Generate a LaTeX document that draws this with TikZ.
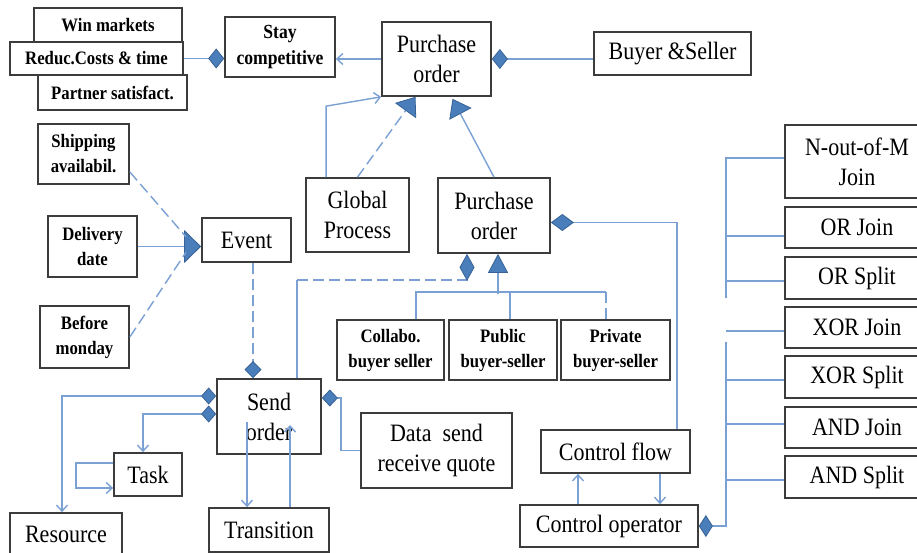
\documentclass[tikz,border=0pt]{standalone}
\usepackage{fontspec}
\setmainfont{Liberation Serif}
\newfontfamily\dfont[FakeStretch=0.88]{Liberation Serif}
\usetikzlibrary{arrows.meta,calc}

\definecolor{conncol}{RGB}{122,160,212}
\definecolor{tipfill}{RGB}{74,126,187}
\definecolor{tipline}{RGB}{56,98,150}
\definecolor{boxline}{RGB}{60,60,60}

\tikzset{
  DiaF/.tip={Diamond[fill=tipfill,color=tipline,line width=0.8pt]},
  TriF/.tip={Triangle[fill=tipfill,color=tipline,line width=0.8pt]},
  Op/.tip={Straight Barb[length=6pt,width=11pt]},
  box/.style={draw=boxline, line width=1.7pt, fill=white, inner sep=0pt,
    align=center, font=\dfont\fontsize{25}{30}\selectfont},
  sbox/.style={box, font=\dfont\bfseries\fontsize{19}{25}\selectfont},
  conn/.style={draw=conncol, line width=1.4pt},
  dashed/.style={dash pattern=on 11pt off 5pt},
}

\begin{document}
\begin{tikzpicture}[x=1pt,y=-1pt]
\useasboundingbox (0,0) rectangle (917,553);
\clip (0,0) rectangle (917,553);
\fill[white] (0,0) rectangle (917,553);

% goals
\node[sbox, minimum width=148, minimum height=34] (win) at (108,25) {Win markets};
\node[sbox, minimum width=173, minimum height=33] (reduc) at (96.5,58.5) {Reduc.Costs \& time};
\node[sbox, minimum width=149, minimum height=35] (partner) at (112.5,92.5) {Partner satisfact.};
\node[sbox, minimum width=110, minimum height=60, font=\dfont\bfseries\fontsize{20}{26}\selectfont] (stay) at (280,47) {Stay\\competitive};

% purchase order and its parts
\node[box, minimum width=109, minimum height=74] (po) at (436.5,59) {Purchase\\order};
\node[box, minimum width=157, minimum height=43] (buyer) at (672.5,53.5) {Buyer \&Seller};
\node[box, minimum width=103, minimum height=74] (gp) at (357.5,215) {Global\\Process};
\node[box, minimum width=112, minimum height=75] (po2) at (494,215.5) {Purchase\\order};

% event conditions
\node[sbox, minimum width=91, minimum height=60] (ship) at (83.5,154) {Shipping\\availabil.};
\node[sbox, minimum width=89, minimum height=61] (deliv) at (92.5,246.5) {Delivery\\date};
\node[sbox, minimum width=89, minimum height=62] (before) at (84.5,337) {Before\\monday};
\node[box, minimum width=89, minimum height=44] (event) at (246.5,240) {Event};

% buyer-seller kinds
\node[sbox, minimum width=107, minimum height=60] (collabo) at (390.5,350) {Collabo.\\buyer seller};
\node[sbox, minimum width=108, minimum height=60] (public) at (503,350) {Public\\buyer-seller};
\node[sbox, minimum width=109, minimum height=60] (private) at (615.5,350) {Private\\buyer-seller};

% process elements
\node[box, minimum width=104, minimum height=75] (send) at (269,416.5) {Send\\order};
\node[box, minimum width=68, minimum height=43] (task) at (148,474.5) {Task};
\node[box, minimum width=112, minimum height=43] (resource) at (66,534.5) {Resource};
\node[box, minimum width=120, minimum height=44] (transition) at (269,530) {Transition};
\node[box, minimum width=151, minimum height=75] (data) at (436.5,450.5) {Data\ \ send\\receive quote};
\node[box, minimum width=149, minimum height=43] (cflow) at (615.5,451.5) {Control flow};
\node[box, minimum width=178, minimum height=42] (cop) at (609,526) {Control operator};

% control operators
\node[box, minimum width=144, minimum height=73] (nofm) at (857,161.5) {N-out-of-M\\Join};
\node[box, minimum width=144, minimum height=41] (orj) at (857,227.5) {OR Join};
\node[box, minimum width=144, minimum height=42] (ors) at (857,278) {OR Split};
\node[box, minimum width=144, minimum height=41] (xorj) at (857,327.5) {XOR Join};
\node[box, minimum width=144, minimum height=42] (xors) at (857,377) {XOR Split};
\node[box, minimum width=144, minimum height=41] (andj) at (857,427.5) {AND Join};
\node[box, minimum width=144, minimum height=42] (ands) at (857,477) {AND Split};

% --- connectors ---
\draw[conn,-{DiaF[length=16pt,width=20pt]}] (reduc.east) -- (reduc.east -| stay.west);
\draw[conn,-{Op}] (po.west) -- (po.west -| stay.east);
\draw[conn,-{DiaF[length=16pt,width=20pt]}] (po.east -| buyer.west) -- (po.east);

\draw[conn,-{Op}] ($(gp.north west)+(21,0)$) -- ++(0,-71) -- (po.south west);
\draw[conn,dashed,-{TriF[length=17pt,width=26pt]}] (gp.north) -- ($(po.south)+(-21,0)$);
\draw[conn,-{TriF[length=17pt,width=25pt]}] (po2.north) -- ($(po.south)+(16,2)$);

\draw[conn,-{DiaF[length=23pt,width=17pt]}] ($(cflow.north east)+(-14,0)$) |- ($(po2.east)+(0,7)$);

\coordinate (sj) at ($(send.north west)+(81,-98)$);
\draw[conn] ($(send.north west)+(81,0)$) -- (sj);
\draw[conn,dashed,-{DiaF[length=27pt,width=15pt]}] (sj) -| ($(po2.south)+(-27,0)$);

\coordinate (hub) at ($(po2.south)+(4,40)$);
\draw[conn,-{TriF[length=19pt,width=20pt]}] (hub) -- ($(po2.south)+(4,0)$);
\draw[conn] ($(collabo.north)+(25.5,0)$) |- ($(private.north)+(-9.5,-27)$);
\draw[conn] ($(public.north)+(7,0)$) -- ++(0,-27);
\draw[conn,dashed] ($(private.north)+(-9.5,0)$) -- ++(0,-27);

\draw[conn,-{TriF[length=17pt,width=33pt]}] (deliv.east) -- (deliv.east -| event.west);
\draw[conn,dashed] ($(ship.east)+(0,18)$) -- ($(event.west)+(-15,-3)$);
\draw[conn,dashed] (before.east) -- ($(event.west)+(-15,12)$);
\draw[conn,dashed,-{DiaF[length=17pt,width=17pt]}] ($(event.south)+(6.5,0)$) -- ($(send.north)+(-16,0)$);

\draw[conn,{DiaF[length=15pt,width=17pt]}-{Op}] ($(send.west)+(0,-20.5)$) -| ($(resource.north)+(-4,0)$);
\draw[conn,{DiaF[length=15pt,width=17pt]}-{Op}] ($(send.west)+(0,-2.5)$) -| ($(task.north)+(-5,0)$);
\draw[conn,-{Op}] ($(task.west)+(0,-11.5)$) -- ++(-37,0) |- ($(task.west)+(0,13.5)$);
\draw[conn,-{Op}] ($(send.center)+(-22,5.5)$) -- ($(transition.north)+(-22,0)$);
\draw[conn,-{Op}] ($(transition.north)+(21,0)$) -- ($(send.center)+(21,8.5)$);
\draw[conn,-{DiaF[length=16pt,width=17pt]}] (data.west) -- ++(-19,0) |- ($(send.east)+(0,-18.5)$);

\coordinate (u1) at ($(cop.north)+(-31,0)$);
\draw[conn,-{Op}] (u1) -- (u1 |- cflow.south);
\coordinate (d1) at ($(cflow.south)+(44.5,0)$);
\draw[conn,-{Op}] (d1) -- (d1 |- cop.north);

\draw[conn] ($(nofm.west)+(0,-3.5)$) -- ++(-58,0) -- ++(0,140);
\draw[conn] ($(orj.west)+(0,8.5)$) -- ++(-58,0);
\draw[conn] ($(ors.west)+(0,3)$) -- ++(-58,0);
\draw[conn] ($(xorj.west)+(0,3.5)$) -- ++(-58,0);
\draw[conn,-{DiaF[length=14pt,width=22pt]}] ($(xors.west)+(-58,-35)$) |- (cop.east);
\draw[conn] ($(xors.west)+(0,3)$) -- ++(-58,0);
\draw[conn] ($(andj.west)+(0,-3.5)$) -- ++(-58,0);
\draw[conn] ($(ands.west)+(0,3)$) -- ++(-58,0);
\end{tikzpicture}
\end{document}
